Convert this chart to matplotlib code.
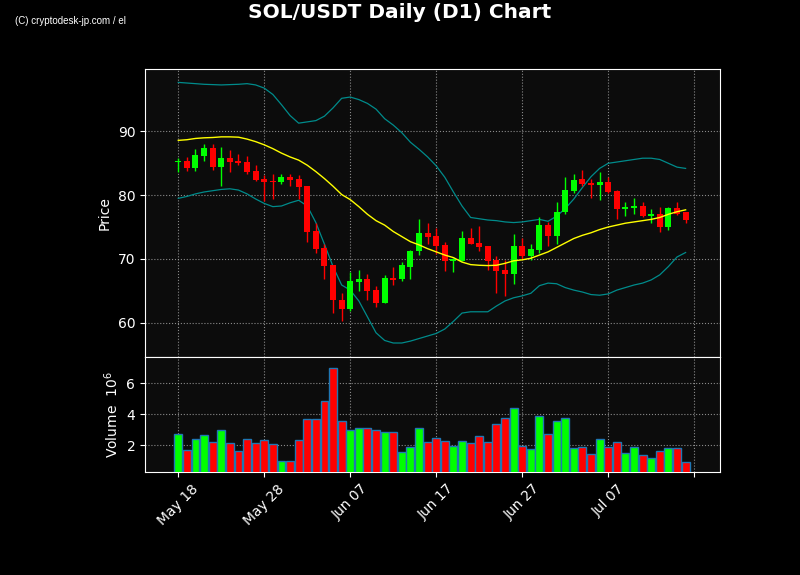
import numpy as np
import pandas as pd
import matplotlib
matplotlib.use("Agg")
import matplotlib.pyplot as plt

# ---- data (SOL/USDT daily, May 18 .. Jul 16)
dates = pd.date_range("2023-05-18", periods=60, freq="D")

opens = [85.2, 85.3, 84.2, 86.1, 87.4, 84.4, 85.8, 85.3, 85.2, 83.8,
         82.6, 82.2, 82.1, 82.9, 82.5, 81.4, 74.4, 71.7, 69.0, 63.6,
         62.1, 66.3, 66.8, 65.1, 63.1, 67.0, 66.8, 68.8, 71.2, 74.0,
         73.6, 72.2, 69.6, 69.6, 73.3, 72.5, 72.0, 69.8, 68.3, 67.7,
         72.0, 70.4, 71.4, 75.3, 73.6, 77.3, 80.7, 82.5, 81.9, 81.6,
         82.0, 80.6, 77.9, 78.0, 78.3, 76.7, 77.0, 75.0, 78.0, 77.3]
closes = [85.4, 84.3, 86.3, 87.4, 84.4, 85.8, 85.2, 85.1, 83.7, 82.4,
          82.1, 82.0, 82.9, 82.4, 81.3, 74.2, 71.5, 68.9, 63.6, 62.2,
          66.5, 66.8, 64.9, 63.1, 67.0, 66.7, 69.0, 71.3, 74.0, 73.4,
          72.0, 69.6, 70.0, 73.3, 72.4, 71.9, 69.7, 68.1, 67.7, 72.0,
          70.4, 71.5, 75.3, 73.6, 77.4, 80.8, 82.4, 81.7, 81.6, 82.0,
          80.5, 77.8, 78.2, 78.3, 76.8, 77.1, 75.0, 78.0, 77.0, 76.1]
highs = [85.9, 86.0, 87.2, 88.1, 88.0, 87.5, 87.1, 86.5, 86.2, 84.8,
         83.1, 83.3, 83.3, 83.4, 83.1, 81.5, 75.6, 72.3, 69.1, 64.6,
         67.9, 68.2, 67.6, 65.8, 67.4, 68.8, 69.5, 71.4, 76.2, 75.7,
         74.8, 72.7, 70.1, 74.3, 74.8, 75.1, 72.0, 70.5, 69.8, 73.9,
         73.3, 72.4, 76.5, 75.8, 79.0, 82.8, 83.3, 84.0, 82.5, 83.7,
         82.8, 80.8, 78.9, 79.6, 78.9, 77.8, 78.2, 78.1, 79.0, 77.3]
lows = [83.6, 83.8, 83.8, 85.3, 84.0, 81.5, 83.7, 84.8, 83.3, 82.2,
        79.1, 79.4, 81.8, 81.4, 79.4, 72.7, 70.9, 66.8, 61.5, 60.3,
        61.9, 65.0, 63.6, 62.4, 63.0, 65.9, 66.5, 66.9, 70.6, 72.3,
        70.7, 68.1, 67.9, 69.6, 72.3, 71.3, 68.2, 64.7, 64.1, 66.0,
        70.0, 69.8, 70.9, 72.0, 72.3, 77.0, 80.4, 81.4, 79.6, 79.3,
        80.4, 76.3, 76.8, 77.1, 76.6, 75.7, 74.2, 74.6, 76.9, 75.7]
volumes = [2.75, 1.66, 2.37, 2.63, 2.17, 2.95, 2.11, 1.59, 2.37, 2.11,
           2.30, 2.05, 0.99, 0.99, 2.30, 3.66, 3.66, 4.88, 6.99, 3.53,
           2.95, 3.08, 3.08, 2.95, 2.88, 2.82, 1.53, 1.85, 3.08, 2.17,
           2.43, 2.24, 1.92, 2.24, 2.11, 2.56, 2.17, 3.34, 3.72, 4.37,
           1.92, 1.72, 3.85, 2.69, 3.59, 3.72, 1.79, 1.85, 1.40, 2.37,
           1.85, 2.17, 1.46, 1.85, 1.34, 1.14, 1.59, 1.79, 1.79, 0.88]  # x 1e6

ma = [88.6, 88.7, 88.9, 89.0, 89.05, 89.15, 89.15, 89.1, 88.8, 88.4,
      87.9, 87.3, 86.6, 86.0, 85.5, 84.7, 83.7, 82.6, 81.4, 80.1,
      79.3, 78.2, 77.0, 76.0, 75.3, 74.3, 73.5, 72.7, 72.2, 71.6,
      71.1, 70.6, 70.2, 69.5, 69.1, 69.0, 68.95, 69.0, 69.3, 69.7,
      69.85, 70.1, 70.6, 71.1, 71.8, 72.5, 73.2, 73.7, 74.1, 74.6,
      75.0, 75.3, 75.6, 75.8, 76.0, 76.2, 76.5, 77.0, 77.4, 77.7]
bb_upper = [97.7, 97.6, 97.5, 97.4, 97.35, 97.3, 97.35, 97.4, 97.5, 97.3,
            96.8, 95.8, 94.2, 92.5, 91.3, 91.5, 91.7, 92.4, 93.7, 95.2,
            95.4, 95.0, 94.4, 93.5, 92.0, 91.0, 89.8, 88.3, 87.2, 86.0,
            84.6, 82.8, 80.5, 78.3, 76.5, 76.3, 76.1, 76.0, 75.8, 75.7,
            75.8, 76.0, 76.2, 75.9, 76.7, 77.9, 79.4, 81.2, 82.9, 84.2,
            85.0, 85.2, 85.4, 85.6, 85.8, 85.8, 85.6, 85.0, 84.4, 84.2]
bb_lower = [79.5, 79.8, 80.2, 80.5, 80.7, 80.9, 81.0, 80.8, 80.2, 79.4,
            78.7, 78.2, 78.3, 78.8, 79.2, 78.3, 75.7, 72.3, 68.8, 65.9,
            65.1, 63.4, 60.9, 58.4, 57.2, 56.8, 56.8, 57.1, 57.5, 57.9,
            58.3, 59.0, 60.2, 61.5, 61.7, 61.7, 61.7, 62.6, 63.4, 63.9,
            64.2, 64.6, 65.8, 66.2, 66.1, 65.5, 65.1, 64.8, 64.4, 64.3,
            64.5, 65.1, 65.5, 65.9, 66.2, 66.7, 67.5, 68.8, 70.3, 71.0]

UP, DOWN = "#00ff00", "#ff0000"
BG, FACE = "#000000", "#0c0c0c"

plt.rcParams.update({
    "figure.facecolor": BG,
    "axes.facecolor": FACE,
    "axes.edgecolor": "#ffffff",
    "axes.labelcolor": "#ffffff",
    "xtick.color": "#ffffff",
    "ytick.color": "#ffffff",
    "text.color": "#ffffff",
    "font.size": 10,
})

o = np.array(opens)
c = np.array(closes)
h = np.array(highs)
l = np.array(lows)
v = np.array(volumes)
x = np.arange(len(dates))
cols = np.where(c >= o, UP, DOWN)

fig = plt.figure(figsize=(8, 5.75), dpi=100)
ax = fig.add_axes([0.18125, 0.3791, 0.71875, 0.5009])
axv = fig.add_axes([0.18125, 0.1791, 0.71875, 0.2], sharex=ax)

# candles
ax.vlines(x, l, h, colors=cols, lw=1, zorder=3)
body = np.maximum(np.abs(c - o), 0.12)
ax.bar(x, body, width=0.7, bottom=np.minimum(o, c), color=cols, lw=0, zorder=4)

# SMA + Bollinger
ax.plot(x, ma, color="#ffff00", lw=1, zorder=5)
ax.plot(x, bb_upper, color="#008b8b", lw=0.9, zorder=2)
ax.plot(x, bb_lower, color="#008b8b", lw=0.9, zorder=2)

ax.set_ylim(54.6, 99.8)
ax.set_yticks([60, 70, 80, 90])
ax.set_ylabel("Price")
ax.grid(True, color="#aaaaaa", ls=":", lw=0.8, alpha=0.8)
ax.tick_params(axis="x", labelbottom=False, length=0)

# volume
axv.bar(x, v, width=0.92, color=cols, edgecolor="#1f77b4", lw=1, zorder=3)
axv.set_ylim(0.3 * v.min(), 1.1 * v.max())
axv.set_yticks([2, 4, 6])
axv.set_ylabel("Volume  $10^{6}$")
axv.grid(True, color="#aaaaaa", ls=":", lw=0.8, alpha=0.8)

ticks = np.arange(0, 61, 10)
labels = [dates[t].strftime("%b %d") if t < len(dates) else "" for t in ticks]
axv.set_xticks(ticks)
axv.set_xticklabels(labels, rotation=45, ha="center")
axv.set_xlim(-3.87, 63.0)

for a in (ax, axv):
    for sp in a.spines.values():
        sp.set_color("#ffffff")

fig.suptitle("SOL/USDT Daily (D1) Chart", fontsize=14.5, fontweight="bold", color="#ffffff", y=0.979, va="center")
fig.text(0.019, 0.963, "(C) cryptodesk-jp.com / el", fontsize=7, family="Liberation Sans", color="#ffffff", va="center")

fig.savefig("out.png", dpi=100, facecolor=BG)
